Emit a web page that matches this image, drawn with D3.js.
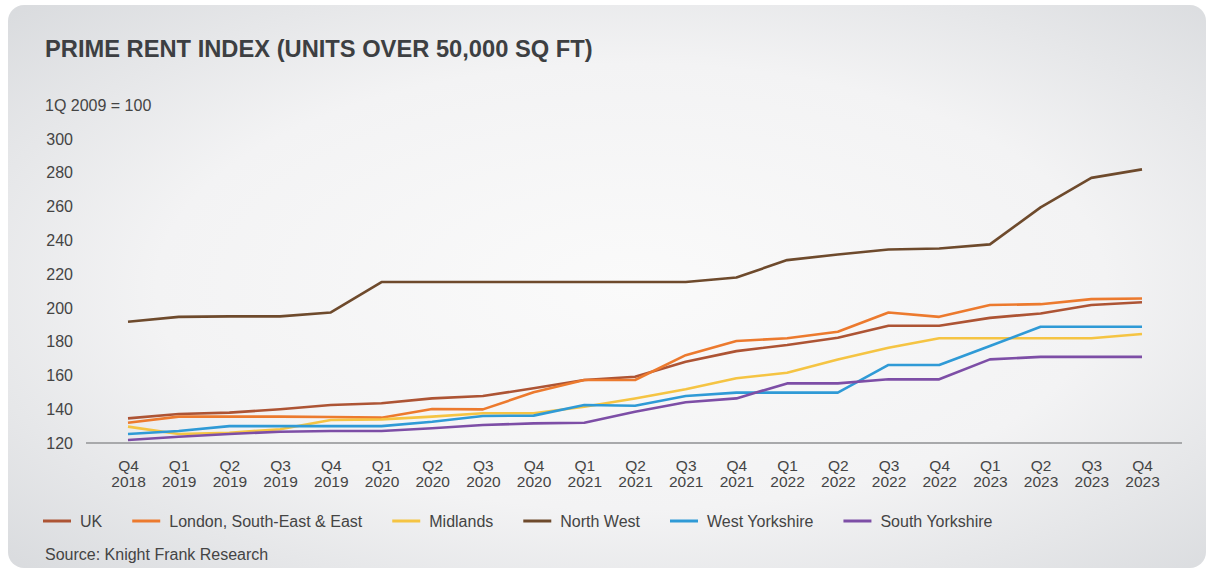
<!DOCTYPE html>
<html>
<head>
<meta charset="utf-8">
<script src="https://cdn.jsdelivr.net/npm/d3@7"></script>
<style>
  html, body { margin: 0; padding: 0; background: #ffffff; }
  svg { display: block; }
  text { font-family: "Liberation Sans", Arial, sans-serif; }
</style>
</head>
<body>
<svg id="chart" width="1209" height="571"></svg>
<script>
// ---------- DATA ----------
const quarters = ["Q4","Q1","Q2","Q3","Q4","Q1","Q2","Q3","Q4","Q1","Q2","Q3","Q4","Q1","Q2","Q3","Q4","Q1","Q2","Q3","Q4"];
const years    = ["2018","2019","2019","2019","2019","2020","2020","2020","2020","2021","2021","2021","2021","2022","2022","2022","2022","2023","2023","2023","2023"];
const categories = quarters.map((q, i) => q + " " + years[i]);

const seriesNames = ["UK", "London, South-East & East", "Midlands", "North West", "West Yorkshire", "South Yorkshire"];
const ukValues        = [134.6,137.2,138.0,140.0,142.5,143.5,146.4,147.8,152.4,157.3,159.2,168.1,174.4,178.0,182.3,189.4,189.4,194.1,196.7,201.7,203.3];
const londonValues    = [132.0,135.6,135.6,135.6,135.4,135.0,140.1,139.9,150.0,157.3,157.3,172.0,180.4,182.0,185.9,197.3,194.7,201.7,202.2,205.2,205.6];
const midlandsValues  = [129.7,125.3,126.1,128.1,133.6,134.0,135.6,137.6,137.6,141.5,146.4,151.8,158.3,161.6,169.5,176.4,182.0,182.0,182.0,182.0,184.5];
const northWestValues = [191.8,194.7,195.0,195.0,197.3,215.3,215.3,215.3,215.3,215.3,215.3,215.3,218.0,228.3,231.6,234.6,235.2,237.6,259.5,277.0,282.0];
const westYorksValues = [125.3,127.1,130.0,130.0,130.0,130.0,132.6,136.0,136.2,142.5,142.1,147.8,149.8,149.8,149.8,166.2,166.2,177.4,188.8,188.8,188.8];
const southYorksValues= [121.8,123.7,125.3,126.7,127.1,127.1,128.7,130.7,131.6,132.0,138.5,144.1,146.4,155.3,155.3,157.7,157.7,169.5,171.0,171.0,171.0];
const seriesValues = [ukValues, londonValues, midlandsValues, northWestValues, westYorksValues, southYorksValues];
const seriesColors = ["#ad5434", "#ec7a2e", "#f5c443", "#6e4a2c", "#2f9ad6", "#7d4ea6"];

const yTicks = [120,140,160,180,200,220,240,260,280,300];
const titleText = "PRIME RENT INDEX (UNITS OVER 50,000 SQ FT)";
const unitText = "1Q 2009 = 100";
const sourceText = "Source: Knight Frank Research";

// ---------- DRAW ----------
const svg = d3.select("#chart");
const defs = svg.append("defs");
const grad = defs.append("radialGradient").attr("id", "bg")
  .attr("cx", 0.52).attr("cy", 0.5).attr("r", 0.72);
grad.append("stop").attr("offset", "0%").attr("stop-color", "#fafafa");
grad.append("stop").attr("offset", "55%").attr("stop-color", "#f3f3f4");
grad.append("stop").attr("offset", "100%").attr("stop-color", "#d9dbde");

svg.append("rect").attr("x", 8).attr("y", 5).attr("width", 1198).attr("height", 563)
  .attr("rx", 16).attr("ry", 16).attr("fill", "url(#bg)");

const x = d3.scalePoint().domain(categories).range([128, 1142]);
const y = d3.scaleLinear().domain([120, 300]).range([443, 139]);

// title
svg.append("text").attr("x", 45).attr("y", 57)
  .attr("font-size", 23.7).attr("font-weight", "bold").attr("fill", "#3d3f42")
  .text(titleText);

svg.append("text").attr("x", 45).attr("y", 111)
  .attr("font-size", 16).attr("fill", "#444").text(unitText);

// y axis
const yAxis = svg.append("g").attr("transform", "translate(73,0)")
  .call(d3.axisLeft(y).tickValues(yTicks).tickSize(0).tickPadding(0));
yAxis.select(".domain").remove();
yAxis.selectAll("text").attr("font-size", 16).attr("fill", "#444")
  .attr("font-family", "Liberation Sans, Arial, sans-serif");

// x axis baseline
svg.append("line").attr("x1", 86).attr("x2", 1182).attr("y1", y(120)).attr("y2", y(120))
  .attr("stroke", "#a8a9ab").attr("stroke-width", 2);

// x axis labels
const xAxis = svg.append("g").attr("transform", `translate(0,${y(120)})`)
  .call(d3.axisBottom(x).tickSize(0));
xAxis.select(".domain").remove();
xAxis.selectAll(".tick text").each(function(d, i) {
  const t = d3.select(this);
  t.text(null).attr("y", 0).attr("dy", null)
    .attr("font-size", 15.5).attr("fill", "#444")
    .attr("font-family", "Liberation Sans, Arial, sans-serif");
  t.append("tspan").attr("x", 0).attr("y", 28).text(quarters[i]);
  t.append("tspan").attr("x", 0).attr("y", 44).text(years[i]);
});

// lines
const line = d3.line().x((d, i) => x(categories[i])).y(d => y(d));
seriesValues.forEach((vals, k) => {
  svg.append("path").datum(vals)
    .attr("d", line)
    .attr("fill", "none")
    .attr("stroke", seriesColors[k])
    .attr("stroke-width", 2.6)
    .attr("stroke-linejoin", "round");
});

// legend
const legend = svg.append("g").attr("transform", "translate(43,521)");
let lx = 0;
seriesNames.forEach((name, k) => {
  legend.append("line").attr("x1", lx).attr("x2", lx + 28).attr("y1", 0).attr("y2", 0)
    .attr("stroke", seriesColors[k]).attr("stroke-width", 3);
  const t = legend.append("text").attr("x", lx + 37).attr("y", 6)
    .attr("font-size", 16).attr("fill", "#444").text(name);
  lx += 37 + t.node().getComputedTextLength() + 30;
});

// source
svg.append("text").attr("x", 45).attr("y", 560)
  .attr("font-size", 16).attr("fill", "#444").text(sourceText);
</script>
</body>
</html>
